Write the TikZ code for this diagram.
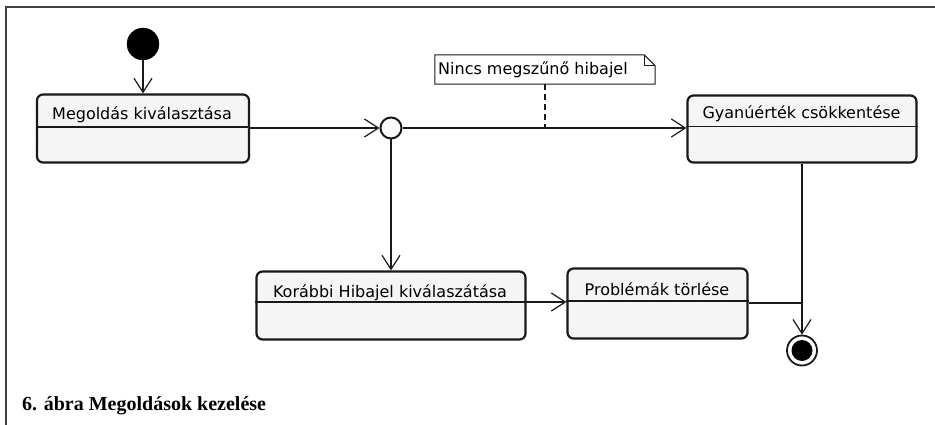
\documentclass[tikz,border=0pt]{standalone}
\usepackage{fontspec}
\setmainfont{Liberation Serif}
\newfontfamily\uifont{DejaVu Sans}
\usetikzlibrary{arrows.meta,patterns}
\begin{document}
\begin{tikzpicture}[x=1pt,y=-1pt,
  statebox/.style={draw=black!90, line width=2.2pt, rounded corners=6pt, inner sep=0pt,
    preaction={fill=gray!4},
    preaction={pattern=north east lines, pattern color=gray!14}},
  divider/.style={draw=black!90, line width=1.1pt},
  title/.style={anchor=base, inner sep=0pt, font=\uifont\fontsize{16}{19}\selectfont},
  flow/.style={draw=black!90, line width=1.2pt, -{Straight Barb[length=14pt,width=18pt,line width=1.2pt]}},
  plain/.style={draw=black!90, line width=1.2pt},
  initnode/.style={circle, fill=black, draw=black, inner sep=0pt, minimum size=32pt},
  juncnode/.style={circle, draw=black!90, line width=2pt, fill=gray!4, inner sep=0pt, minimum size=21pt},
  finalring/.style={circle, draw=black!90, line width=1.8pt, fill=white, inner sep=0pt, minimum size=30pt},
  notebox/.style={inner sep=0pt, minimum width=220pt, minimum height=29pt},
]
\useasboundingbox (0,0) rectangle (935,425);

% frame
\draw[line width=2pt, black!75] (6,425) -- (6,7.5) -- (935,7.5);

% states
\node[initnode] (init) at (143,44) {};

\node[statebox, minimum width=212pt, minimum height=68pt] (sel) at (143,128.5) {};
\draw[divider] (sel.west |- 0,127) -- (sel.east |- 0,127);
\node[title] (selt) at (142,120) {Megoldás kiválasztása};

\node[juncnode] (junc) at (391,128) {};

\node[statebox, minimum width=229pt, minimum height=67pt] (dec) at (802,129) {};
\draw[divider] (dec.west |- 0,126.5) -- (dec.east |- 0,126.5);
\node[title] (dect) at (801.5,119) {Gyanúérték csökkentése};

\node[statebox, minimum width=269pt, minimum height=68pt] (prev) at (391,305.5) {};
\draw[divider] (prev.west |- 0,302) -- (prev.east |- 0,302);
\node[title] (prevt) at (390,297) {Korábbi Hibajel kiválaszátása};

\node[statebox, minimum width=180pt, minimum height=70pt] (del) at (657.5,303.5) {};
\draw[divider] (del.west |- 0,301) -- (del.east |- 0,301);
\node[title] (delt) at (657,295.5) {Problémák törlése};

\node[finalring] (final) at (802,350.5) {};
\node[circle, fill=black, inner sep=0pt, minimum size=21pt] (finalc) at (final) {};

% note with folded corner
\node[notebox] (note) at (545,69.5) {};
\draw[black!90, line width=1pt, fill=white]
  (note.north west) -- ([xshift=-11pt]note.north east) -- ([yshift=-11pt]note.north east)
  -- (note.south east) -- (note.south west) -- cycle;
\draw[black!90, line width=1pt]
  ([xshift=-11pt]note.north east) -- ([xshift=-11pt,yshift=-11pt]note.north east)
  -- ([yshift=-11pt]note.north east);
\node[anchor=base west, inner sep=0pt, font=\uifont\fontsize{16}{19}\selectfont] (notet) at (438,75) {Nincs megszűnő hibajel};

% transitions
\coordinate (merge) at (802,303);
\draw[flow] (init) -- (sel.north);
\draw[flow] (sel.east |- junc) -- (junc.west);
\draw[flow] (junc.east) -- (dec.west |- junc);
\draw[flow] (junc.south) -- (junc |- prev.north);
\draw[flow] (prev.east |- 0,302) -- (del.west |- 0,302);
\draw[plain] (del.east |- merge) -- (merge);
\draw[flow] (dec.south) -- (final.north);
\draw[black!90, line width=1.2pt, dash pattern=on 6pt off 4pt] (note.south) -- (note |- junc);

% caption
\node[anchor=base west, inner sep=0pt, font=\bfseries\fontsize{20}{24}\selectfont] (cap) at (22,410) {6. ábra Megoldások kezelése};
\end{tikzpicture}
\end{document}
